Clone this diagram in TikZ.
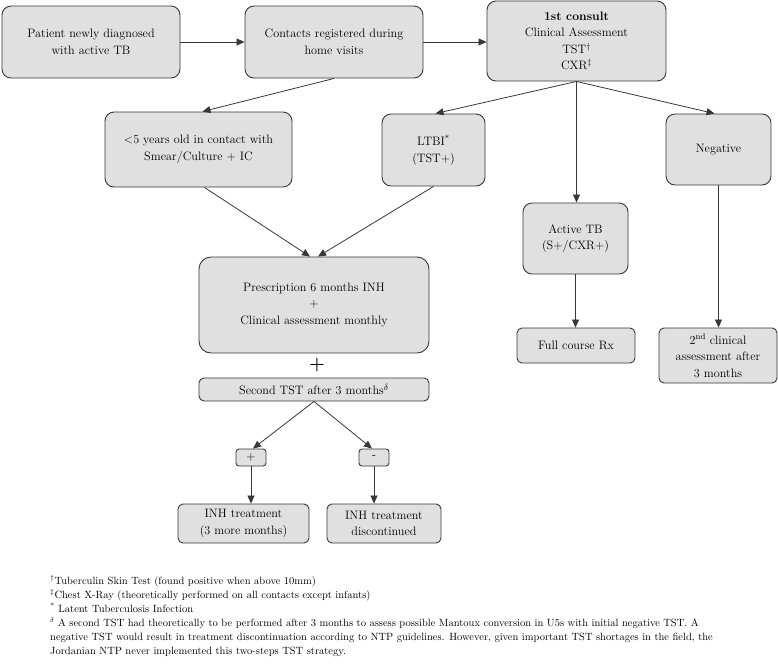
\documentclass[tikz,border=0pt]{standalone}
\usetikzlibrary{arrows.meta}
\definecolor{boxfill}{HTML}{E0E0E0}
\definecolor{edge}{HTML}{383838}
\newcommand{\boxfont}{\fontsize{12.2}{16.5}\selectfont}
\newcommand{\notefont}{\fontsize{10.5}{14}\selectfont}
\tikzset{
  box/.style={draw=edge, fill=boxfill, line width=0.9pt, rounded corners=9pt, align=center, inner sep=0pt, font=\boxfont},
  smallbox/.style={box, rounded corners=5pt},
  conn/.style={draw=edge, line width=0.8pt, -{Triangle[length=8pt,width=7pt]}},
}
\begin{document}
\begin{tikzpicture}[x=1pt,y=-1pt]
\useasboundingbox[fill=white] (0,0) rectangle (778,665);
% top row
\node[box, minimum width=178, minimum height=72] (A) at (91,42) {Patient newly diagnosed\\with active TB};
\node[box, minimum width=178, minimum height=72] (B) at (334,42) {Contacts registered during\\home visits};
\node[box, minimum width=179, minimum height=80] (C) at (576.5,41) {\textbf{1st consult}\\Clinical Assessment\\TST\textsuperscript{\textdagger}\\CXR\textsuperscript{\textdaggerdbl}};
% second row
\node[box, minimum width=187, minimum height=75] (D) at (198.5,149.5) {<5 years old in contact with\\Smear/Culture + IC};
\node[box, minimum width=103, minimum height=72] (E) at (433.5,150) {LTBI\textsuperscript{*}\\(TST+)};
\node[box, minimum width=105, minimum height=71] (F) at (718.5,149.5) {Negative};
\node[box, minimum width=105, minimum height=71] (G) at (575.5,238.5) {Active TB\\(S+/CXR+)};
\node[smallbox, minimum width=118, minimum height=35] (H) at (576,345.5) {Full course Rx};
\node[smallbox, minimum width=118, minimum height=55] (I) at (718,355.5) {2\textsuperscript{nd} clinical\\assessment after\\3 months};
% treatment
\node[box, rounded corners=12pt, minimum width=230, minimum height=96] (J) at (314,305) {Prescription 6 months INH\\+\\Clinical assessment monthly};
\node[font=\fontsize{18}{18}\selectfont\bfseries, inner sep=0pt] (plus) at (317,365) {+};
\node[smallbox, minimum width=230, minimum height=23] (K) at (314,389.5) {Second TST after 3 months$^{\delta}$};
\node[box, rounded corners=3pt, minimum width=30, minimum height=17] (L) at (251,457.5) {+};
\node[box, rounded corners=3pt, minimum width=30, minimum height=17] (M) at (374,457.5) {-};
\node[smallbox, minimum width=131, minimum height=39] (N) at (243.5,523.5) {INH treatment\\(3 more months)};
\node[smallbox, minimum width=114, minimum height=39] (O) at (384,523.5) {INH treatment\\discontinued};
% connectors
\draw[conn] (A.east) -- (B.west);
\draw[conn] (B.east) -- (B.east -| C.west);
\draw[conn] (B.south) -- ([xshift=4pt]D.north);
\draw[conn] (C.south) -- ([xshift=2pt]E.north);
\draw[conn] (C.south) -- (C.south |- G.north);
\draw[conn] (C.south) -- ([xshift=-4pt]F.north);
\draw[conn] ([xshift=6pt]D.south) -- ([xshift=-4pt]J.north);
\draw[conn] (E.south) -- ([xshift=4pt]J.north);
\draw[conn] (G.south) -- (G.south |- H.north);
\draw[conn] (F.south) -- (F.south |- I.north);
\draw[conn] (K.south) -- ([xshift=2pt]L.north);
\draw[conn] (K.south) -- ([xshift=-2pt]M.north);
\draw[conn] (L.south) -- (L.south |- N.north);
\draw[conn] (M.south) -- (M.south |- O.north);
% footnotes
\node[anchor=north west, align=left, inner sep=0pt, font=\notefont] (notes) at (50,575) {%
\textsuperscript{\textdagger}Tuberculin Skin Test (found positive when above 10mm)\\
\textsuperscript{\textdaggerdbl}Chest X-Ray (theoretically performed on all contacts except infants)\\
\textsuperscript{*} Latent Tuberculosis Infection\\
$^{\delta}$ A second TST had theoretically to be performed after 3 months to assess possible Mantoux conversion in U5s with initial negative TST. A\\
negative TST would result in treatment discontinuation according to NTP guidelines. However, given important TST shortages in the field, the\\
Jordanian NTP never implemented this two-steps TST strategy.};
\end{tikzpicture}
\end{document}
